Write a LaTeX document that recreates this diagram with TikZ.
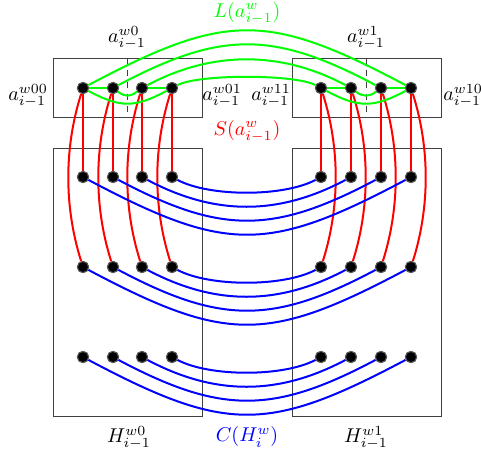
\documentclass[tikz,border=0pt]{standalone}
\begin{document}
\begin{tikzpicture}[x=0.5pt,y=-0.5pt,
  dot/.style={circle,fill=black,draw=black!65,line width=0.5pt,inner sep=0pt,minimum size=5.6pt},
  box/.style={draw=black!75,line width=0.5pt},
  gedge/.style={draw=green,line width=1pt},
  redge/.style={draw=red,line width=1pt},
  bedge/.style={draw=blue,line width=1pt},
  lbl/.style={inner sep=0pt}]
\useasboundingbox (0,0) rectangle (481,457);
% boxes
\draw[box] (53,58) rectangle (202,117);
\draw[box] (292,58) rectangle (441,117);
\draw[box] (53,148) rectangle (202,416);
\draw[box] (292,148) rectangle (441,416);
\draw[box,dashed] (127,58) -- (127,117);
\draw[box,dashed] (366,58) -- (366,117);
% nodes
\foreach \r/\y in {a/88,b/177,c/267,d/357}{
  \node[dot] (L1\r) at (83,\y) {};
  \node[dot] (L2\r) at (113,\y) {};
  \node[dot] (L3\r) at (142,\y) {};
  \node[dot] (L4\r) at (172,\y) {};
  \node[dot] (R1\r) at (321,\y) {};
  \node[dot] (R2\r) at (351,\y) {};
  \node[dot] (R3\r) at (381,\y) {};
  \node[dot] (R4\r) at (411,\y) {};
}
% red edges
\foreach \i in {1,2,3,4}{
  \draw[redge] (L\i a) -- (L\i b);
  \draw[redge] (L\i a) .. controls +(-19,60) and +(-19,-60) .. (L\i c);
  \draw[redge] (R\i a) -- (R\i b);
  \draw[redge] (R\i a) .. controls +(19,60) and +(19,-60) .. (R\i c);
}
% blue edges
\foreach \r in {b,c,d}{
  \draw[bedge] (L4\r) .. controls +(37.6,20) and +(-37.6,20) .. (R1\r);
  \draw[bedge] (L3\r) .. controls +(72.7,38.7) and +(-72.7,38.7) .. (R2\r);
  \draw[bedge] (L2\r) .. controls +(107.8,57.3) and +(-107.8,57.3) .. (R3\r);
  \draw[bedge] (L1\r) .. controls +(143,76) and +(-143,76) .. (R4\r);
}
% green edges
\draw[gedge] (L4a) .. controls +(26.3,-14) and +(-26.3,-14) .. (R1a);
\draw[gedge] (L3a) .. controls +(70.2,-37.3) and +(-70.2,-37.3) .. (R2a);
\draw[gedge] (L2a) .. controls +(107.8,-57.3) and +(-107.8,-57.3) .. (R3a);
\draw[gedge] (L1a) .. controls +(143,-76) and +(-143,-76) .. (R4a);
\draw[gedge] (L1a) -- (L2a);
\draw[gedge] (L3a) -- (L4a);
\draw[gedge] (L2a) .. controls +(12,9) and +(-12,9) .. (L3a);
\draw[gedge] (L1a) .. controls +(37.6,20) and +(-37.6,20) .. (L4a);
\draw[gedge] (R1a) -- (R2a);
\draw[gedge] (R3a) -- (R4a);
\draw[gedge] (R2a) .. controls +(12,9) and +(-12,9) .. (R3a);
\draw[gedge] (R1a) .. controls +(37.6,20) and +(-37.6,20) .. (R4a);
% redraw nodes on top
\foreach \r in {a,b,c,d}{
  \foreach \s in {L1,L2,L3,L4,R1,R2,R3,R4}{
    \filldraw[fill=black,draw=black!65,line width=0.5pt] (\s\r) circle (2.8pt);
  }
}
% labels
\node[lbl,text=green] (lL) at (247,13) {$L(a^{w}_{i-1})$};
\node[lbl,text=red] (lS) at (247,131) {$S(a^{w}_{i-1})$};
\node[lbl,text=blue] (lC) at (247,437) {$C(H^{w}_{i})$};
\node[lbl] (lw0) at (127,38) {$a^{w0}_{i-1}$};
\node[lbl] (lw1) at (366,38) {$a^{w1}_{i-1}$};
\node[lbl] (lw00) at (28,96) {$a^{w00}_{i-1}$};
\node[lbl] (lw01) at (222,96) {$a^{w01}_{i-1}$};
\node[lbl] (lw11) at (271,96) {$a^{w11}_{i-1}$};
\node[lbl] (lw10) at (463,96) {$a^{w10}_{i-1}$};
\node[lbl] (lH0) at (129,438) {$H^{w0}_{i-1}$};
\node[lbl] (lH1) at (366,438) {$H^{w1}_{i-1}$};
\end{tikzpicture}
\end{document}
